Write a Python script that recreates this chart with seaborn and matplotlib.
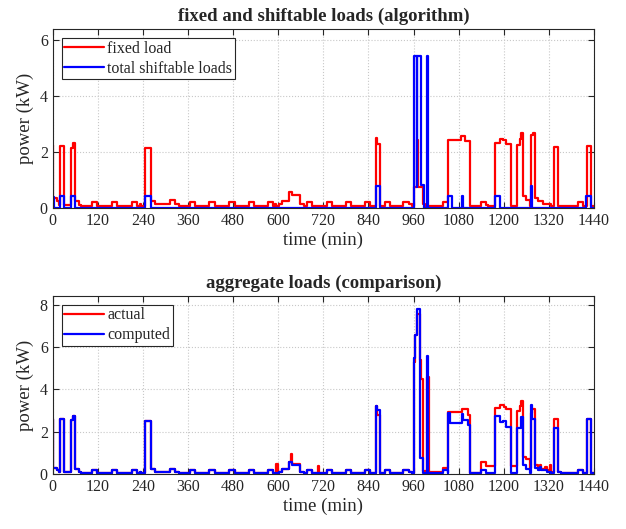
import matplotlib
matplotlib.use("Agg")
import matplotlib.pyplot as plt
import pandas as pd
import seaborn as sns

# step breakpoints (minute, kW)
fixed_t = [0, 2, 12, 16, 20, 30, 49, 53, 60, 70, 76, 104, 119, 157, 172, 210, 224, 232, 235,
           246, 261, 273, 313, 326, 336, 364, 379, 417, 432, 469, 484, 521, 536, 573, 587,
           592, 595, 603, 610, 628, 637, 659, 668, 677, 690, 729, 742, 779, 794, 831, 844,
           860, 864, 871, 883, 897, 933, 948, 955, 962, 969, 972, 985, 990, 1037, 1052,
           1085, 1096, 1110, 1140, 1153, 1157, 1177, 1191, 1197, 1205, 1218, 1236, 1242,
           1247, 1251, 1258, 1270, 1273, 1278, 1284, 1292, 1304, 1326, 1333, 1344, 1397,
           1411, 1421, 1431, 1440]
fixed_kw = [2.25, 0.33, 0.25, 0.1, 2.2, 0.1, 2.15, 2.33, 0.25, 0.1, 0.07, 0.2, 0.07, 0.2, 0.07,
            0.2, 0.07, 0.12, 0.07, 2.13, 0.25, 0.12, 0.27, 0.12, 0.07, 0.2, 0.07, 0.2, 0.07,
            0.2, 0.07, 0.2, 0.07, 0.2, 0.07, 0.15, 0.07, 0.12, 0.24, 0.57, 0.46, 0.12, 0.07,
            0.2, 0.07, 0.2, 0.07, 0.2, 0.07, 0.2, 0.07, 2.49, 2.3, 0.07, 0.2, 0.07, 0.2, 0.12,
            0.07, 0.75, 2.43, 0.75, 0.15, 0.07, 0.19, 2.43, 2.57, 2.4, 0.07, 0.2, 0.1, 0.07,
            2.31, 2.47, 2.43, 2.27, 0.07, 2.25, 2.45, 2.67, 0.42, 0.28, 0.07, 2.6, 2.67, 0.34,
            0.25, 0.12, 0.07, 2.19, 0.07, 0.2, 0.07, 2.2, 0.07, 0.07]

shift_t = [0, 4, 20, 30, 49, 60, 246, 261, 860, 871, 961, 968, 969, 979, 987, 996, 999,
           1052, 1061, 1088, 1092, 1177, 1191, 1273, 1276, 1420, 1431, 1440]
shift_kw = [0.4, 0, 0.42, 0, 0.42, 0, 0.42, 0, 0.79, 0, 5.45, 0.75, 5.45, 0.8, 0, 5.45, 0,
            0.42, 0, 0.42, 0, 0.42, 0, 0.78, 0, 0.42, 0, 0]

actual_t = [0, 2, 12, 16, 19, 30, 49, 53, 60, 70, 76, 104, 119, 157, 172, 210, 224, 232, 235,
            246, 261, 273, 313, 326, 336, 364, 379, 417, 432, 469, 484, 521, 536, 573, 587,
            595, 600, 603, 610, 628, 633, 637, 659, 668, 677, 690, 705, 709, 729, 742, 779,
            794, 831, 844, 860, 864, 871, 883, 897, 933, 948, 955, 961, 965, 968, 976, 981,
            986, 996, 1000, 1037, 1052, 1090, 1104, 1110, 1140, 1153, 1177, 1189, 1200, 1205,
            1218, 1236, 1242, 1247, 1251, 1258, 1270, 1273, 1276, 1284, 1290, 1296, 1300,
            1310, 1315, 1322, 1326, 1333, 1344, 1352, 1397, 1411, 1421, 1431, 1440]
actual_kw = [2.6, 0.3, 0.22, 0.1, 2.6, 0.1, 2.56, 2.74, 0.25, 0.12, 0.07, 0.2, 0.07, 0.2, 0.07,
             0.2, 0.07, 0.12, 0.07, 2.52, 0.25, 0.12, 0.27, 0.12, 0.07, 0.2, 0.07, 0.2, 0.07,
             0.2, 0.07, 0.2, 0.07, 0.2, 0.07, 0.47, 0.07, 0.12, 0.24, 0.57, 0.96, 0.5, 0.12,
             0.07, 0.2, 0.07, 0.4, 0.07, 0.2, 0.07, 0.2, 0.07, 0.2, 0.07, 3.2, 2.8, 0.07, 0.2,
             0.07, 0.2, 0.12, 0.07, 5.3, 6.55, 7.57, 5.38, 4.5, 0.15, 4.6, 0.12, 0.28, 2.92,
             3.06, 2.8, 0.07, 0.56, 0.41, 3.14, 3.26, 3.15, 3.06, 0.4, 3.0, 3.2, 3.46, 0.8,
             0.7, 0.3, 2.9, 3.06, 0.45, 0.3, 0.45, 0.25, 0.35, 0.2, 0.45, 0.1, 2.59, 0.12,
             0.07, 0.2, 0.07, 2.6, 0.07, 0.07]

computed_t = [0, 2, 12, 16, 19, 30, 49, 53, 60, 70, 76, 104, 119, 157, 172, 210, 224, 232, 235,
              246, 261, 273, 313, 326, 336, 364, 379, 417, 432, 469, 484, 521, 536, 573, 587,
              603, 610, 628, 637, 659, 668, 677, 690, 729, 742, 779, 794, 831, 844, 860, 864,
              871, 883, 897, 933, 948, 955, 961, 965, 968, 978, 986, 996, 999, 1037, 1051,
              1052, 1058, 1088, 1092, 1104, 1110, 1140, 1153, 1177, 1189, 1197, 1205, 1218,
              1236, 1245, 1251, 1258, 1270, 1273, 1276, 1284, 1290, 1296, 1300, 1315, 1326,
              1333, 1344, 1352, 1397, 1411, 1421, 1431, 1440]
computed_kw = [2.6, 0.3, 0.22, 0.1, 2.6, 0.1, 2.56, 2.74, 0.25, 0.12, 0.07, 0.2, 0.07, 0.2,
               0.07, 0.2, 0.07, 0.12, 0.07, 2.52, 0.25, 0.12, 0.27, 0.12, 0.07, 0.2, 0.07, 0.2,
               0.07, 0.2, 0.07, 0.2, 0.07, 0.2, 0.07, 0.12, 0.24, 0.57, 0.46, 0.12, 0.07, 0.2,
               0.07, 0.2, 0.07, 0.2, 0.07, 0.2, 0.07, 3.23, 3.03, 0.07, 0.2, 0.07, 0.2, 0.12,
               0.07, 5.46, 6.55, 7.81, 0.75, 0.07, 5.57, 0.07, 0.22, 0.07, 2.9, 2.4, 2.85, 2.55,
               2.3, 0.07, 0.2, 0.07, 2.74, 2.45, 2.5, 2.24, 0.07, 2.2, 2.68, 0.44, 0.24, 0.07,
               3.26, 2.6, 0.3, 0.2, 0.35, 0.2, 0.1, 0.07, 2.16, 0.12, 0.07, 0.2, 0.07, 2.6,
               0.07, 0.07]

xticks = list(range(0, 1441, 120))

sns.set_style("ticks")
plt.rcParams["font.family"] = ["Liberation Serif", "DejaVu Serif"]
plt.rcParams["xtick.direction"] = "in"
plt.rcParams["ytick.direction"] = "in"

fig = plt.figure(figsize=(6.26, 5.29), dpi=100)
ax1 = fig.add_axes([0.0842, 0.6074, 0.8647, 0.3372])
ax2 = fig.add_axes([0.0842, 0.1034, 0.8647, 0.337])


def steps(ax, t, kw, color, label):
    sns.lineplot(x=t, y=kw, ax=ax, color=color, lw=1.6, label=label,
                 drawstyle="steps-post", estimator=None, sort=False)


steps(ax1, fixed_t, fixed_kw, "red", "fixed load")
steps(ax1, shift_t, shift_kw, "blue", "total shiftable loads")
steps(ax2, actual_t, actual_kw, "red", "actual")
steps(ax2, computed_t, computed_kw, "blue", "computed")

for ax, top, yt, title in [(ax1, 6.4, [0, 2, 4, 6], "fixed and shiftable loads (algorithm)"),
                           (ax2, 8.4, [0, 2, 4, 6, 8], "aggregate loads (comparison)")]:
    ax.set_xlim(0, 1440)
    ax.set_ylim(0, top)
    ax.set_xticks(xticks)
    ax.set_yticks(yt)
    ax.grid(True, ls=":", color="#c8c8c8", lw=0.8)
    ax.tick_params(top=True, right=True, labelsize=11.5, length=4, width=0.8)
    for s in ax.spines.values():
        s.set_visible(True)
        s.set_color("#262626")
        s.set_linewidth(0.8)
    ax.set_xlabel("time (min)", fontsize=13.5, labelpad=2)
    ax.set_ylabel("power (kW)", fontsize=13.5, labelpad=4)
    ax.set_title(title, fontsize=13.5, fontweight="bold", pad=6)
    leg = ax.legend(loc="upper left", bbox_to_anchor=(0.017, 0.95), borderaxespad=0,
                    fontsize=11.5, frameon=True, fancybox=False, framealpha=1,
                    edgecolor="#262626", handlelength=2.5, labelspacing=0.25,
                    borderpad=0.15, handletextpad=0.2)
    leg.get_frame().set_linewidth(0.8)

fig.savefig("out.png", dpi=100)
